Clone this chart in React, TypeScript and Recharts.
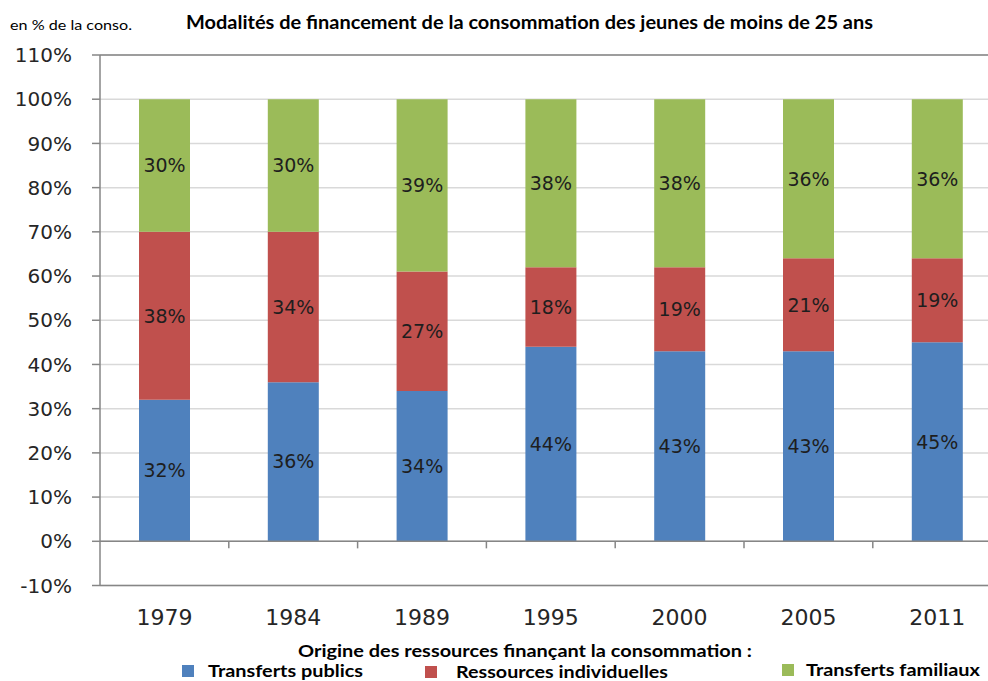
import React from 'react';
import { BarChart, Bar, XAxis, YAxis, CartesianGrid, ReferenceLine, LabelList } from 'recharts';

const categories = ['1979', '1984', '1989', '1995', '2000', '2005', '2011'];
const transfertsPublics = [32, 36, 34, 44, 43, 43, 45];
const ressourcesIndividuelles = [38, 34, 27, 18, 19, 21, 19];
const transfertsFamiliaux = [30, 30, 39, 38, 38, 36, 36];
const yTicks = [-10, 0, 10, 20, 30, 40, 50, 60, 70, 80, 90, 100, 110];

const seriesDefs = [
  { key: 'publics', name: 'Transferts publics', color: '#4F81BD' },
  { key: 'individuelles', name: 'Ressources individuelles', color: '#C0504D' },
  { key: 'familiaux', name: 'Transferts familiaux', color: '#9BBB59' },
];

const title = 'Modalités de financement de la consommation des jeunes de moins de 25 ans';
const unitLabel = 'en % de la conso.';
const legendTitle = 'Origine des ressources finançant la consommation :';

const data = categories.map((c, i) => ({
  year: c,
  publics: transfertsPublics[i],
  individuelles: ressourcesIndividuelles[i],
  familiaux: transfertsFamiliaux[i],
}));

const AXIS = '#868686';
const FONT = '"DejaVu Sans", Verdana, sans-serif';

const legendLayout = [
  { sx: 182, sy: 665, tx: 208, ty: 677, w: 155 },
  { sx: 425, sy: 666, tx: 456, ty: 678, w: 212 },
  { sx: 782, sy: 664, tx: 806, ty: 676, w: 174 },
];

export default function App() {
  return (
    <div style={{ position: 'absolute', left: 0, top: 0, width: 988, height: 681, overflow: 'hidden', background: '#fff' }}>
      <BarChart
        width={1004}
        height={681}
        data={data}
        margin={{ top: 55, right: 2.4, bottom: 65.5, left: 0 }}
        barSize={51}
        style={{ fontFamily: FONT }}
      >
        <CartesianGrid vertical={false} stroke="#d9d9d9" strokeWidth={1.5} />
        <XAxis
          dataKey="year"
          height={30}
          tickSize={0}
          tickMargin={24}
          tickLine={false}
          axisLine={{ stroke: AXIS, strokeWidth: 1.5 }}
          tick={{ fill: '#262626', fontSize: 22, fontFamily: FONT }}
          interval={0}
        />
        <YAxis
          width={100}
          domain={[-10, 110]}
          ticks={yTicks}
          interval={0}
          tickFormatter={(v) => `${v}%`}
          tickSize={8}
          tickMargin={20}
          tickLine={{ stroke: AXIS, strokeWidth: 1.5 }}
          axisLine={{ stroke: AXIS, strokeWidth: 1.5 }}
          tick={{ fill: '#262626', fontSize: 20, fontFamily: FONT }}
          allowDataOverflow
        />
        {seriesDefs.map((s) => (
          <Bar key={s.key} dataKey={s.key} name={s.name} stackId="a" fill={s.color} isAnimationActive={false}>
            <LabelList
              dataKey={s.key}
              position="center"
              formatter={(v: number) => `${v}%`}
              fill="#1e1e1e"
              fontSize={19}
              fontFamily={FONT}
            />
          </Bar>
        ))}
        <ReferenceLine y={110} stroke={AXIS} strokeWidth={1.5} />
        <ReferenceLine y={0} stroke={AXIS} strokeWidth={1.5} />
        {categories.map((c) => (
          <ReferenceLine
            key={c}
            position="end"
            segment={[{ x: c, y: 0 }, { x: c, y: -1.6 }]}
            stroke={AXIS}
            strokeWidth={1.5}
            ifOverflow="visible"
          />
        ))}
      </BarChart>
      <svg width={988} height={681} style={{ position: 'absolute', left: 0, top: 0, pointerEvents: 'none' }}>
        <text x={10} y={30} fontFamily="Lato, sans-serif" fontSize={14} fill="#000" textLength={122} lengthAdjust="spacingAndGlyphs">
          {unitLabel}
        </text>
        <text x={186} y={29} fontFamily="Lato, sans-serif" fontWeight="bold" fontSize={18} fill="#000" textLength={687} lengthAdjust="spacingAndGlyphs">
          {title}
        </text>
        <text x={298} y={657} fontFamily="Lato, sans-serif" fontWeight="bold" fontSize={17} fill="#000" textLength={454} lengthAdjust="spacingAndGlyphs">
          {legendTitle}
        </text>
        {seriesDefs.map((s, i) => {
          const l = legendLayout[i];
          return (
            <g key={s.key}>
              <rect x={l.sx} y={l.sy} width={12} height={12} fill={s.color} />
              <text x={l.tx} y={l.ty} fontFamily="Lato, sans-serif" fontWeight="bold" fontSize={17} fill="#000" textLength={l.w} lengthAdjust="spacingAndGlyphs">
                {s.name}
              </text>
            </g>
          );
        })}
      </svg>
    </div>
  );
}
